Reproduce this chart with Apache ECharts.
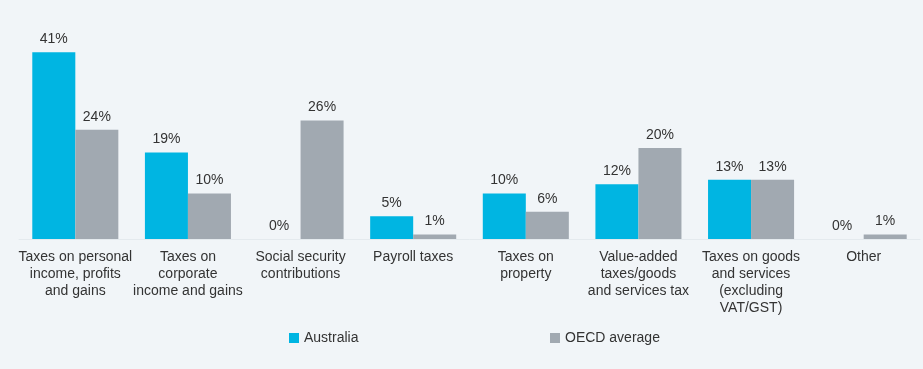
<!DOCTYPE html>
<html><head><meta charset="utf-8">
<script src="https://cdn.jsdelivr.net/npm/echarts@6/dist/echarts.min.js"></script>
<style>html,body{margin:0;padding:0;background:#f1f5f8;}#c{width:923px;height:369px;}</style>
</head><body><div id="c"></div>
<script>
var categories = ["Taxes on personal\nincome, profits\nand gains","Taxes on\ncorporate\nincome and gains","Social security\ncontributions","Payroll taxes","Taxes on\nproperty","Value-added\ntaxes/goods\nand services tax","Taxes on goods\nand services\n(excluding\nVAT/GST)","Other"];
var australia = [41,19,0,5,10,12,13,0];
var oecd = [24,10,26,1,6,20,13,1];
var seriesNames = ["Australia","OECD average"];

var font = 'Liberation Sans, Arial, sans-serif';
var lbl = {show:true, position:'top', formatter:'{c}%', color:'#333', fontSize:14, fontFamily:font, distance:6};
var chart = echarts.init(document.getElementById('c'));
chart.setOption({
  backgroundColor:'#f1f5f8',
  animation:false,
  grid:{left:19, right:3, top:34, bottom:130},
  legend:[
    {data:[seriesNames[0]], left:284, top:326, itemWidth:10, itemHeight:10, icon:'rect', textStyle:{color:'#333', fontSize:14, fontFamily:font}},
    {data:[seriesNames[1]], left:545, top:326, itemWidth:10, itemHeight:10, icon:'rect', textStyle:{color:'#333', fontSize:14, fontFamily:font}}
  ],
  xAxis:{type:'category', data:categories,
    axisLine:{show:true, lineStyle:{color:'#e4eaee'}}, axisTick:{show:false},
    axisLabel:{interval:0, color:'#333', fontSize:14, fontFamily:font, lineHeight:17, margin:10}},
  yAxis:{type:'value', min:0, max:45, show:false, splitLine:{show:false}},
  series:[
    {name:seriesNames[0], type:'bar', data:australia, barGap:'0%', barCategoryGap:'23.6%', itemStyle:{color:'#00b5e2'}, label:lbl},
    {name:seriesNames[1], type:'bar', data:oecd, itemStyle:{color:'#a1a9b1'}, label:lbl}
  ]
});
</script></body></html>
